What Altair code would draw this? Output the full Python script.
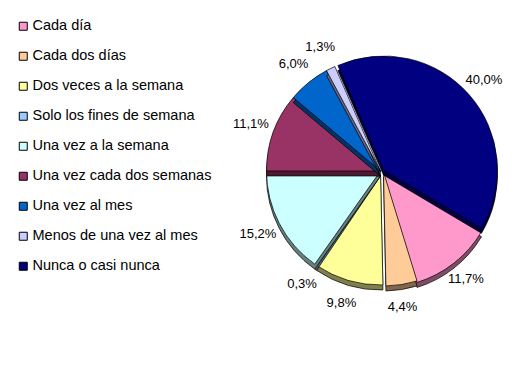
import math
import altair as alt
import pandas as pd

categories = [
    "Cada día",
    "Cada dos días",
    "Dos veces a la semana",
    "Solo los fines de semana",
    "Una vez a la semana",
    "Una vez cada dos semanas",
    "Una vez al mes",
    "Menos de una vez al mes",
    "Nunca o casi nunca",
]
values = [11.7, 4.4, 9.8, 0.3, 15.2, 11.1, 6.0, 1.3, 40.0]
labels = ["11,7%", "4,4%", "9,8%", "0,3%", "15,2%", "11,1%", "6,0%", "1,3%", "40,0%"]

colors = ["#FF99CC", "#FFCC99", "#FFFF99", "#99CCFF", "#CCFFFF",
          "#993366", "#0066CC", "#CCCCFF", "#000080"]


def darken(h, f=0.5):
    r, g, b = int(h[1:3], 16), int(h[3:5], 16), int(h[5:7], 16)
    return "#%02x%02x%02x" % (int(r * f), int(g * f), int(b * f))


shadows = [darken(c) for c in colors]

# explosion offsets (style)
explode = {"Nunca o casi nunca": (3, -1), "Cada día": (3, 2.5), "Cada dos días": (3, 1)}

df = pd.DataFrame({"cat": categories, "val": values, "label": labels,
                   "idx": list(range(len(categories)))})

CX, CY, R = 372.5, 163, 114
SHADOW_DY = 5
FONT = "Liberation Sans"

start = math.radians(120.7)
theta_scale = alt.Scale(domain=[0, 1], range=[start, start + 2 * math.pi])

legend = alt.Legend(
    title=None, orient="none", legendX=8, legendY=11,
    symbolType="square", symbolSize=64, symbolStrokeColor="black",
    symbolStrokeWidth=1, symbolOpacity=1,
    labelFont=FONT, labelFontSize=14.5, labelColor="black",
    rowPadding=15, labelOffset=2, labelLimit=400, padding=0,
)

color_enc = alt.Color("cat:N", scale=alt.Scale(domain=categories, range=colors),
                      legend=legend)

base = alt.Chart().encode(
    x=alt.value(CX), y=alt.value(CY),
    theta=alt.Theta("t0:Q", scale=theta_scale, stack=False),
    theta2=alt.Theta2("t1:Q"),
)

layers = []
for i, cat in enumerate(categories):
    ox, oy = explode.get(cat, (0, 0))
    sh = base.mark_arc(radius=R, xOffset=ox, yOffset=oy + SHADOW_DY,
                       stroke="#000000", strokeWidth=0.7,
                       fill=shadows[i]).transform_filter(alt.datum.idx == i)
    main = base.mark_arc(radius=R, xOffset=ox, yOffset=oy,
                         stroke="#000000", strokeWidth=0.7).encode(
        color=color_enc).transform_filter(alt.datum.idx == i)
    layers += [sh, main]

text = alt.Chart().mark_text(radius=138, font=FONT, fontSize=13,
                             color="black").encode(
    x=alt.value(CX), y=alt.value(CY),
    theta=alt.Theta("tm:Q", scale=theta_scale, stack=False),
    text="label:N",
)
layers.append(text)

chart = alt.layer(*layers, data=df).transform_joinaggregate(
    total="sum(val)"
).transform_window(
    cum="sum(val)", sort=[alt.SortField("idx")], frame=[None, 0]
).transform_calculate(
    t1="datum.cum / datum.total",
    t0="(datum.cum - datum.val) / datum.total",
    tm="(datum.cum - datum.val / 2) / datum.total",
).properties(
    width=514, height=349, padding=0,
    autosize=alt.AutoSizeParams(type="none"),
).configure_view(stroke=None)

chart.save("out.html", embed_options={"renderer": "svg", "actions": False})
